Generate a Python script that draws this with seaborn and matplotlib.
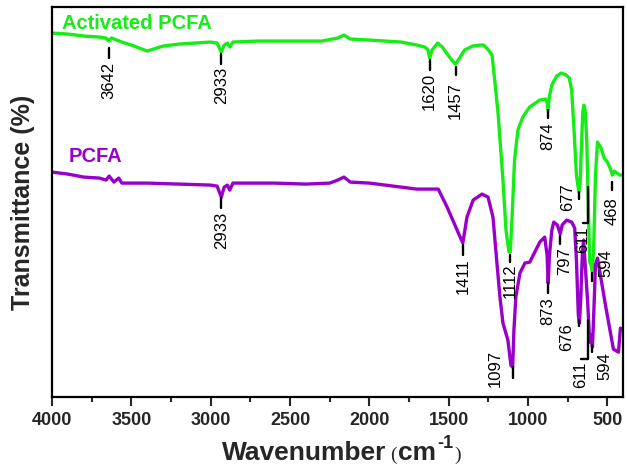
import numpy as np
import pandas as pd
import matplotlib
matplotlib.use("Agg")
import matplotlib.pyplot as plt
import seaborn as sns
from matplotlib.ticker import MultipleLocator

# FTIR spectra, transmittance in arbitrary offset units
act_wn = [4000, 3900, 3800, 3700, 3660, 3642, 3625, 3560, 3500, 3400, 3300, 3200, 3100, 3000,
          2960, 2933, 2915, 2895, 2880, 2860, 2700, 2500, 2300, 2200, 2160, 2120, 2000, 1900,
          1800, 1700, 1650, 1630, 1620, 1605, 1570, 1540, 1500, 1470, 1457, 1440, 1400, 1350,
          1300, 1280, 1260, 1240, 1227, 1210, 1189, 1158, 1139, 1120, 1112, 1100, 1085, 1064,
          1033, 990, 926, 890, 880, 874, 866, 850, 820, 790, 760, 740, 725, 710, 695, 680,
          672, 662, 655, 648, 640, 630, 615, 611, 603, 594, 585, 575, 562, 540, 520, 500,
          480, 468, 455, 440, 420, 400]
act_t = [364, 363, 361, 360, 359, 356, 359, 355, 352, 346, 351, 353, 354, 355,
         354, 345, 352, 354, 350, 355, 356, 356, 356, 359, 362, 358, 357, 356,
         355, 352, 350, 347, 339, 347, 354, 350, 341, 335, 333, 337, 347, 351,
         352, 352, 349, 345, 342, 317, 284, 217, 167, 145, 145, 182, 237, 267,
         280, 290, 297, 298, 295, 287, 300, 312, 321, 324, 322, 319, 307, 267, 222, 205,
         212, 257, 285, 292, 287, 257, 157, 135, 132, 125, 157, 222, 255, 249, 239, 235,
         228, 222, 226, 224, 222, 222]

raw_wn = [4000, 3900, 3800, 3700, 3660, 3640, 3610, 3580, 3560, 3400, 3200, 3000, 2960, 2933,
          2915, 2895, 2880, 2860, 2600, 2400, 2250, 2200, 2160, 2120, 2000, 1900, 1800, 1700,
          1600, 1566, 1510, 1447, 1411, 1385, 1346, 1290, 1252, 1221, 1196, 1177, 1158, 1127,
          1108, 1097, 1089, 1077, 1051, 1020, 989, 926, 895, 880, 873, 865, 850, 838, 815,
          797, 785, 757, 725, 706, 695, 683, 676, 668, 658, 650, 625, 611, 603, 594, 585,
          575, 562, 512, 462, 430, 418, 400]
raw_t = [225, 223, 220, 219, 217, 221, 215, 219, 214, 214, 213, 212, 211, 200,
         210, 212, 207, 214, 214, 213, 214, 217, 220, 215, 214, 212, 210, 208,
         208, 208, 190, 167, 154, 180, 197, 203, 200, 180, 134, 100, 74, 57,
         32, 30, 67, 100, 124, 134, 135, 155, 160, 142, 114, 142, 167, 175, 172,
         163, 172, 177, 175, 169, 137, 82, 74, 97, 142, 157, 97, 55, 62, 50, 87,
         132, 139, 92, 48, 45, 69, 67]

samples = ["Activated PCFA", "PCFA"]
colors = ["#16ec16", "#9900cc"]
xticks = [4000, 3500, 3000, 2500, 2000, 1500, 1000, 500]

act_peaks = [3642, 2933, 1620, 1457, 1112, 874, 677, 611, 594, 468]
raw_peaks = [2933, 1411, 1097, 873, 797, 676, 611, 594]

# label layout: tick segment (top, bottom) and text centre (x, y)
act_layout = {
    3642: ((349, 339), (3642, 317)),
    2933: ((343, 333), (2933, 312)),
    1620: ((337, 327), (1620, 306)),
    1457: ((330, 322), (1457, 297)),
    1112: ((142, 135), (1112, 116)),
    874: ((287, 279), (874, 261)),
    677: ((205, 198), (750, 200)),
    611: ((210, 174), (656, 157)),
    594: ((124, 116), (512, 134)),
    468: ((215, 207), (468, 186)),
}
raw_layout = {
    2933: ((199, 189), (2933, 167)),
    1411: ((152, 142), (1411, 121)),
    1097: ((30, 19), (1208, 29)),
    873: ((114, 104), (873, 86)),
    797: ((161, 153), (769, 136)),
    676: ((77, 71), (757, 60)),
    611: ((77, 38), (669, 22)),
    594: ((52, 45), (518, 31)),
}
bracket_x = {"Activated PCFA": 620, "PCFA": 619}

df = pd.concat([
    pd.DataFrame({"wn": act_wn, "t": act_t, "sample": samples[0]}),
    pd.DataFrame({"wn": raw_wn, "t": raw_t, "sample": samples[1]}),
], ignore_index=True)

sns.set_style("ticks")
plt.rcParams["font.family"] = ["Liberation Sans", "DejaVu Sans"]

fig, ax = plt.subplots(figsize=(6.27, 4.70), dpi=100)
fig.subplots_adjust(left=0.083, right=0.994, top=0.985, bottom=0.155)

sns.lineplot(data=df, x="wn", y="t", hue="sample", palette=colors, sort=False,
             estimator=None, linewidth=2.4, legend=False, ax=ax)


def label_peaks(peaks, layout, name):
    for p in peaks:
        (y0, y1), (tx, ty) = layout[p]
        if p == 611:
            bx = bracket_x[name]
            ax.plot([bx, bx, tx], [y0, y1, y1], color="black", lw=1.7)
        else:
            ax.plot([p, p], [y0, y1], color="black", lw=1.7)
        ax.text(tx, ty, str(p), rotation=90, ha="center", va="center",
                fontsize=12, color="black")


label_peaks(act_peaks, act_layout, samples[0])
label_peaks(raw_peaks, raw_layout, samples[1])

ax.text(3937, 374, samples[0], color=colors[0], fontsize=14.5, fontweight="bold",
        ha="left", va="center")
ax.text(3893, 241, samples[1], color=colors[1], fontsize=14.5, fontweight="bold",
        ha="left", va="center")

ax.set_xlim(4000, 400)
ax.set_ylim(0, 390)
ax.set_xticks(xticks)
ax.xaxis.set_minor_locator(MultipleLocator(250))
ax.set_yticks([])
ax.tick_params(axis="x", which="major", direction="out", length=6.5, width=1.5,
               labelsize=13, pad=4)
ax.tick_params(axis="x", which="minor", direction="out", length=3.5, width=1.5)
for lab in ax.get_xticklabels():
    lab.set_fontweight("bold")
for s in ax.spines.values():
    s.set_linewidth(1.6)
    s.set_color("black")
ax.set_xlabel("")
ax.set_ylabel("Transmittance (%)", fontsize=18, fontweight="bold", labelpad=12)

# x label built from pieces: bold sans words, small serif brackets, hyphen superscript
pieces = [
    ("Wavenumber", dict(fontsize=19, fontweight="bold"), 0, 0),
    ("(", dict(fontsize=14, family="Liberation Serif"), 4, 0),
    ("cm", dict(fontsize=19, fontweight="bold"), 1, 0),
    ("-1", dict(fontsize=13, fontweight="bold"), 1, 12),
    (")", dict(fontsize=14, family="Liberation Serif"), 1, 0),
]
renderer = fig.canvas.get_renderer()
x_px, base_px = 222, 10
for txt, kw, gap, rise in pieces:
    t = fig.text((x_px + gap) / 627, (base_px + rise) / 470, txt, ha="left",
                 va="baseline", **kw)
    x_px = t.get_window_extent(renderer).x1

fig.savefig("out.png", dpi=100)
